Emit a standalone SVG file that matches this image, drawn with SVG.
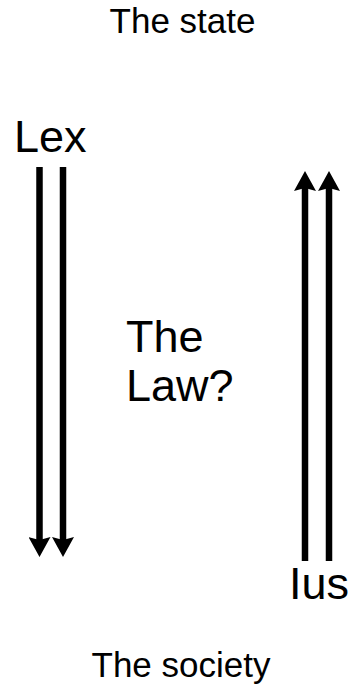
<svg xmlns="http://www.w3.org/2000/svg" width="349" height="689" viewBox="0 0 349 689">
<style>
text{font-family:"Liberation Sans",Arial,Helvetica,sans-serif;fill:#000}
.s{font-size:35px}
.b{font-size:45px}
.arr{stroke:#000;stroke-width:6.5;fill:none;marker-end:url(#ah)}
</style>
<defs>
<marker id="ah" markerUnits="userSpaceOnUse" viewBox="0 0 20 22" refX="3" refY="11" markerWidth="20" markerHeight="22" orient="auto">
<path d="M0,0 L20,11 L0,22 L3,11 Z" fill="#000"/>
</marker>
</defs>
<rect width="349" height="689" fill="#fff"/>
<g id="state"><text class="s" x="182.5" y="33" text-anchor="middle">The state</text></g>
<g id="society"><text class="s" x="181" y="677" text-anchor="middle">The society</text></g>
<g id="lex"><text class="b" x="14" y="152">Lex</text></g>
<g id="ius"><text class="b" x="289" y="599">Ius</text></g>
<g id="law"><text class="b" x="126"><tspan x="126" y="352">The</tspan><tspan x="129" y="401" dx="-3">Law?</tspan></text></g>
<g id="connectors">
<line class="arr" x1="39.5" y1="167" x2="39.5" y2="540"/>
<line class="arr" x1="63" y1="167" x2="63" y2="540"/>
<line class="arr" x1="305" y1="561" x2="305" y2="188"/>
<line class="arr" x1="329" y1="561" x2="329" y2="188"/>
</g>
</svg>
